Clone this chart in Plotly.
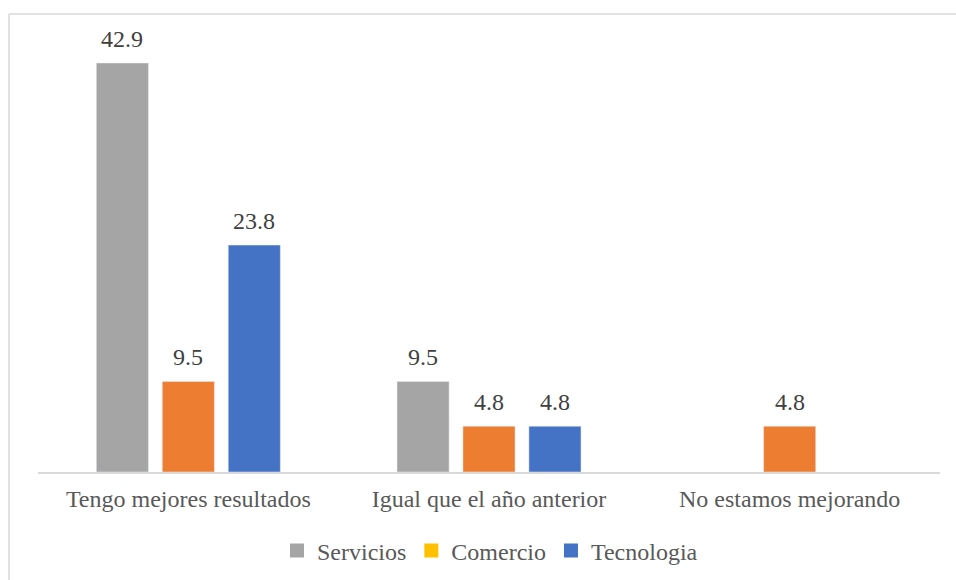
import plotly.graph_objects as go

categories = ["Tengo mejores resultados", "Igual que el año anterior", "No estamos mejorando"]
servicios = [42.9, 9.5, None]
comercio = [9.5, 4.8, 4.8]
tecnologia = [23.8, 4.8, None]

series_names = ["Servicios", "Comercio", "Tecnologia"]
bar_colors = ["#A5A5A5", "#ED7D31", "#4472C4"]
legend_colors = ["#A5A5A5", "#FFC000", "#4472C4"]

W, H = 956, 580
ml, mr, mt, mb = 38, 16, 43, 108
pw, ph = W - ml - mr, H - mt - mb

def px_x(px):
    return (px - ml) / pw

def px_y(py):
    return (H - mb - py) / ph

FONT = "Liberation Serif"
FS = 24
SLOT = 66  # pixel distance between neighbouring bars in a group

fig = go.Figure()
annotations = []
for i, (name, vals, col) in enumerate(zip(series_names, [servicios, comercio, tecnologia], bar_colors)):
    fig.add_trace(go.Bar(name=name, x=categories, y=vals, marker_color=col, showlegend=False))
    for cat, v in zip(categories, vals):
        if v is None:
            continue
        annotations.append(dict(x=cat, y=v, xref="x", yref="y", text=f"{v}", showarrow=False,
                                yanchor="bottom", yshift=9, xshift=(i - 1) * SLOT,
                                font=dict(family=FONT, size=FS, color="#404040")))
# legend entries (Comercio shown in yellow as in the reference)
for name, col in zip(series_names, legend_colors):
    fig.add_trace(go.Scatter(name=name, x=[None], y=[None], mode="markers",
                             marker=dict(symbol="square", size=14, color=col),
                             showlegend=True))

fig.update_layout(
    width=W, height=H,
    margin=dict(l=ml, r=mr, t=mt, b=mb),
    paper_bgcolor="white", plot_bgcolor="white",
    barmode="group", bargap=0.342, bargroupgap=0.21,
    showlegend=True,
    legend=dict(orientation="h", x=0.5 + 12 / W, xanchor="center", xref="container",
                y=1 - 551 / H, yanchor="middle", yref="container",
                font=dict(family=FONT, size=FS, color="#595959"),
                itemwidth=30, traceorder="normal"),
    xaxis=dict(showline=True, linecolor="#D9D9D9", linewidth=2, ticks="", showgrid=False,
               ticklabelstandoff=4,
               tickfont=dict(family=FONT, size=FS, color="#595959")),
    yaxis=dict(range=[0, 45], visible=False, showgrid=False, zeroline=False),
    annotations=annotations,
    shapes=[
        dict(type="line", xref="paper", yref="paper", x0=px_x(9), x1=px_x(956),
             y0=px_y(14), y1=px_y(14), line=dict(color="#D9D9D9", width=1.5)),
        dict(type="line", xref="paper", yref="paper", x0=px_x(9), x1=px_x(9),
             y0=px_y(14), y1=px_y(580), line=dict(color="#D9D9D9", width=1.5)),
    ],
)

fig.write_html("out.html", config={"displayModeBar": False},
               post_script="document.body.style.margin='0';document.body.style.overflow='hidden';")
